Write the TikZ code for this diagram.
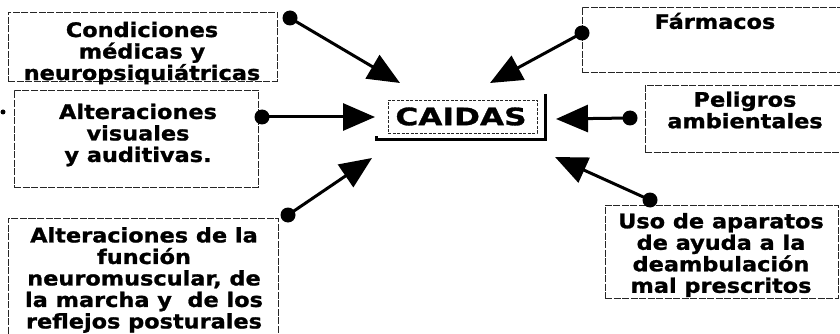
\documentclass[tikz,border=0pt]{standalone}
\usepackage{fontspec}
\setmainfont{DejaVu Sans}[FakeStretch=1.12, BoldFeatures={FakeBold=1.2}]
\usetikzlibrary{arrows.meta}
\tikzset{
  box/.style={draw=black!85, line width=0.8pt, dash pattern=on 7pt off 1.5pt, rectangle, inner sep=0pt},
  lbl/.style={align=center, inner sep=0pt, font=\bfseries\fontsize{20}{21.5}\selectfont},
  dot/.style={circle, fill=black, inner sep=0pt, minimum size=15pt},
  conn/.style={line width=3pt, -{Triangle[length=32pt, width=27pt]}},
}
\begin{document}
\begin{tikzpicture}[x=1pt, y=-1pt]
\useasboundingbox (0,0) rectangle (840,334);
% boxes
\node[box, minimum width=269pt, minimum height=69pt] (b1) at (142.5,46.5) {};
\node[box, minimum width=244pt, minimum height=97pt] (b2) at (136,138.5) {};
\node[box, minimum width=270pt, minimum height=125pt] (b3) at (143,280.5) {};
\node[box, minimum width=260pt, minimum height=65pt] (b4) at (712,39.5) {};
\node[box, minimum width=196pt, minimum height=67pt] (b5) at (743,118.5) {};
\node[box, minimum width=233pt, minimum height=93pt] (b6) at (721.5,251.5) {};
% labels
\node[lbl] (t1) at (142,53) {Condiciones\\médicas y\\neuropsiquiátricas};
\node[lbl] (t2) at (138,135) {Alteraciones\\visuales\\y auditivas.};
\node[lbl] (t3) at (144,280) {Alteraciones de la\\función\\neuromuscular, de\\la marcha y~ de los\\reflejos posturales};
\node[lbl] (t4) at (715,21) {Fármacos};
\node[lbl] (t5) at (745,110) {Peligros\\ambientales};
\node[lbl] (t6) at (721,255) {Uso de aparatos\\de ayuda a la\\deambulación\\mal prescritos};
% center
\node[box, line width=0.6pt, dash pattern=on 3pt off 1.5pt, minimum width=149pt, minimum height=33pt] (ci) at (462.5,116.5) {};
\node[inner sep=0pt, minimum width=168pt, minimum height=45pt, font=\bfseries\fontsize{24}{24}\selectfont\addfontfeature{FakeStretch=1.3}] (c) at (461,116.5) {CAIDAS};
\draw[line width=3pt] (c.north east) -- (c.south east) -- (c.south west) -- ++(0,-3);
% dots
\node[dot] (d1) at (290,18) {};
\node[dot] (d2) at (262,117) {};
\node[dot] (d3) at (288,215) {};
\node[dot] (d4) at (582,33) {};
\node[dot] (d5) at (630,118) {};
\node[dot] (d6) at (650,200) {};
\node[circle, fill=black, inner sep=0pt, minimum size=5pt] (d0) at (3,112) {};
% tips
\coordinate (p1) at (400,83);
\coordinate (p2) at (375,117);
\coordinate (p3) at (372,158);
\coordinate (p4) at (490,83);
\coordinate (p5) at (556,119);
\coordinate (p6) at (555,157);
\draw[conn] (d1.center) -- (p1);
\draw[conn] (d2.center) -- (p2);
\draw[conn] (d3.center) -- (p3);
\draw[conn] (d4.center) -- (p4);
\draw[conn] (d5.center) -- (p5);
\draw[conn] (d6.center) -- (p6);
\end{tikzpicture}
\end{document}
